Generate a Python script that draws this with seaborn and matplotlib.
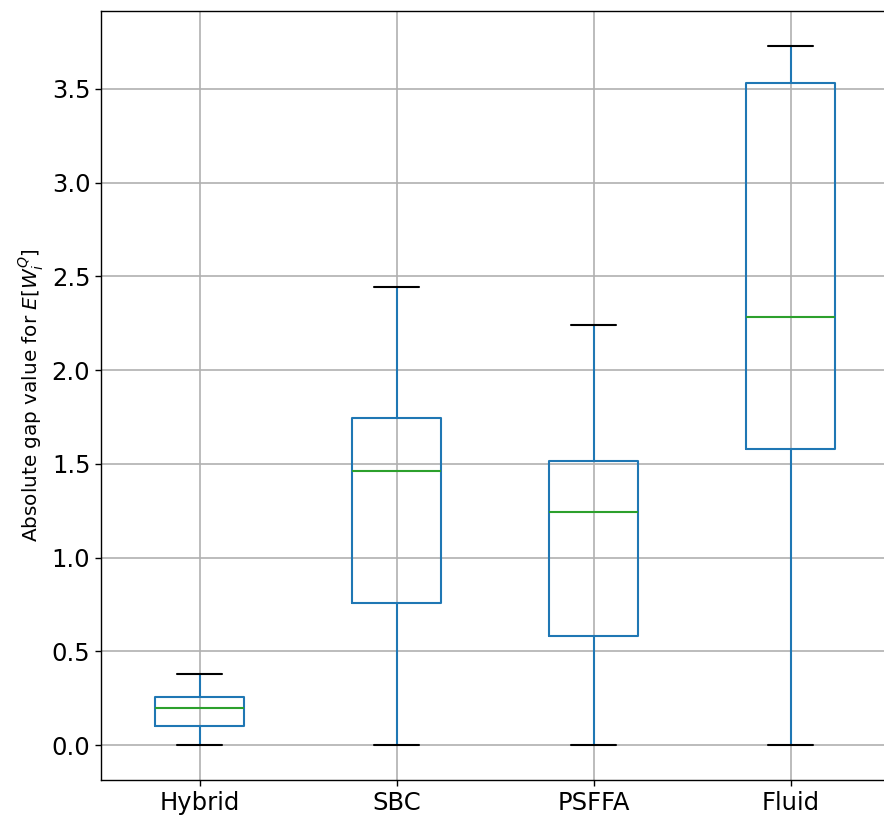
import numpy as np
import pandas as pd
import matplotlib
matplotlib.use("Agg")
import matplotlib.pyplot as plt
import seaborn as sns

# Five-number summaries per method: lower whisker, Q1, median, Q3, upper whisker
methods = ["Hybrid", "SBC", "PSFFA", "Fluid"]
low = [0.0, 0.0, 0.0, 0.0]
q1 = [0.101, 0.758, 0.582, 1.580]
median = [0.197, 1.462, 1.243, 2.284]
q3 = [0.256, 1.745, 1.515, 3.532]
high = [0.379, 2.444, 2.241, 3.730]

rows = []
for i, m in enumerate(methods):
    for v in (low[i], q1[i], median[i], q3[i], high[i]):
        rows.append({"method": m, "gap": v})
df = pd.DataFrame(rows)

sns.set_style("white")
plt.rcParams["font.family"] = ["DejaVu Sans"]

fig, ax = plt.subplots(figsize=(8.84, 8.23), dpi=100)
# the plot area runs slightly past the right edge of the canvas
fig.subplots_adjust(left=0.1143, right=1.0057, top=0.987, bottom=0.052)

sns.boxplot(
    data=df, x="method", y="gap", order=methods, ax=ax,
    fill=False, color="#1f77b4", width=0.45, whis=(0, 100),
    linewidth=1.5,
    boxprops=dict(color="#1f77b4", linewidth=1.5),
    whiskerprops=dict(color="#1f77b4", linewidth=1.5),
    capprops=dict(color="black", linewidth=1.5),
    medianprops=dict(color="#2ca02c", linewidth=1.5),
)

ax.set_xlim(-0.5, 3.5)
ax.set_ylim(-0.1865, 3.9165)
ax.set_yticks(np.arange(0, 3.51, 0.5))
ax.grid(True, color="#b0b0b0", linewidth=1.2)
ax.set_axisbelow(True)
ax.tick_params(axis="both", labelsize=17.5, length=4.2, width=1.0,
               left=True, bottom=True, colors="black", labelcolor="black")
ax.set_xlabel("")
ax.set_ylabel("Absolute gap value for $E[W_i^Q]$", fontsize=14.4, color="black")
for s in ax.spines.values():
    s.set_color("black")
    s.set_linewidth(1.0)

fig.savefig("out.png", dpi=100)
